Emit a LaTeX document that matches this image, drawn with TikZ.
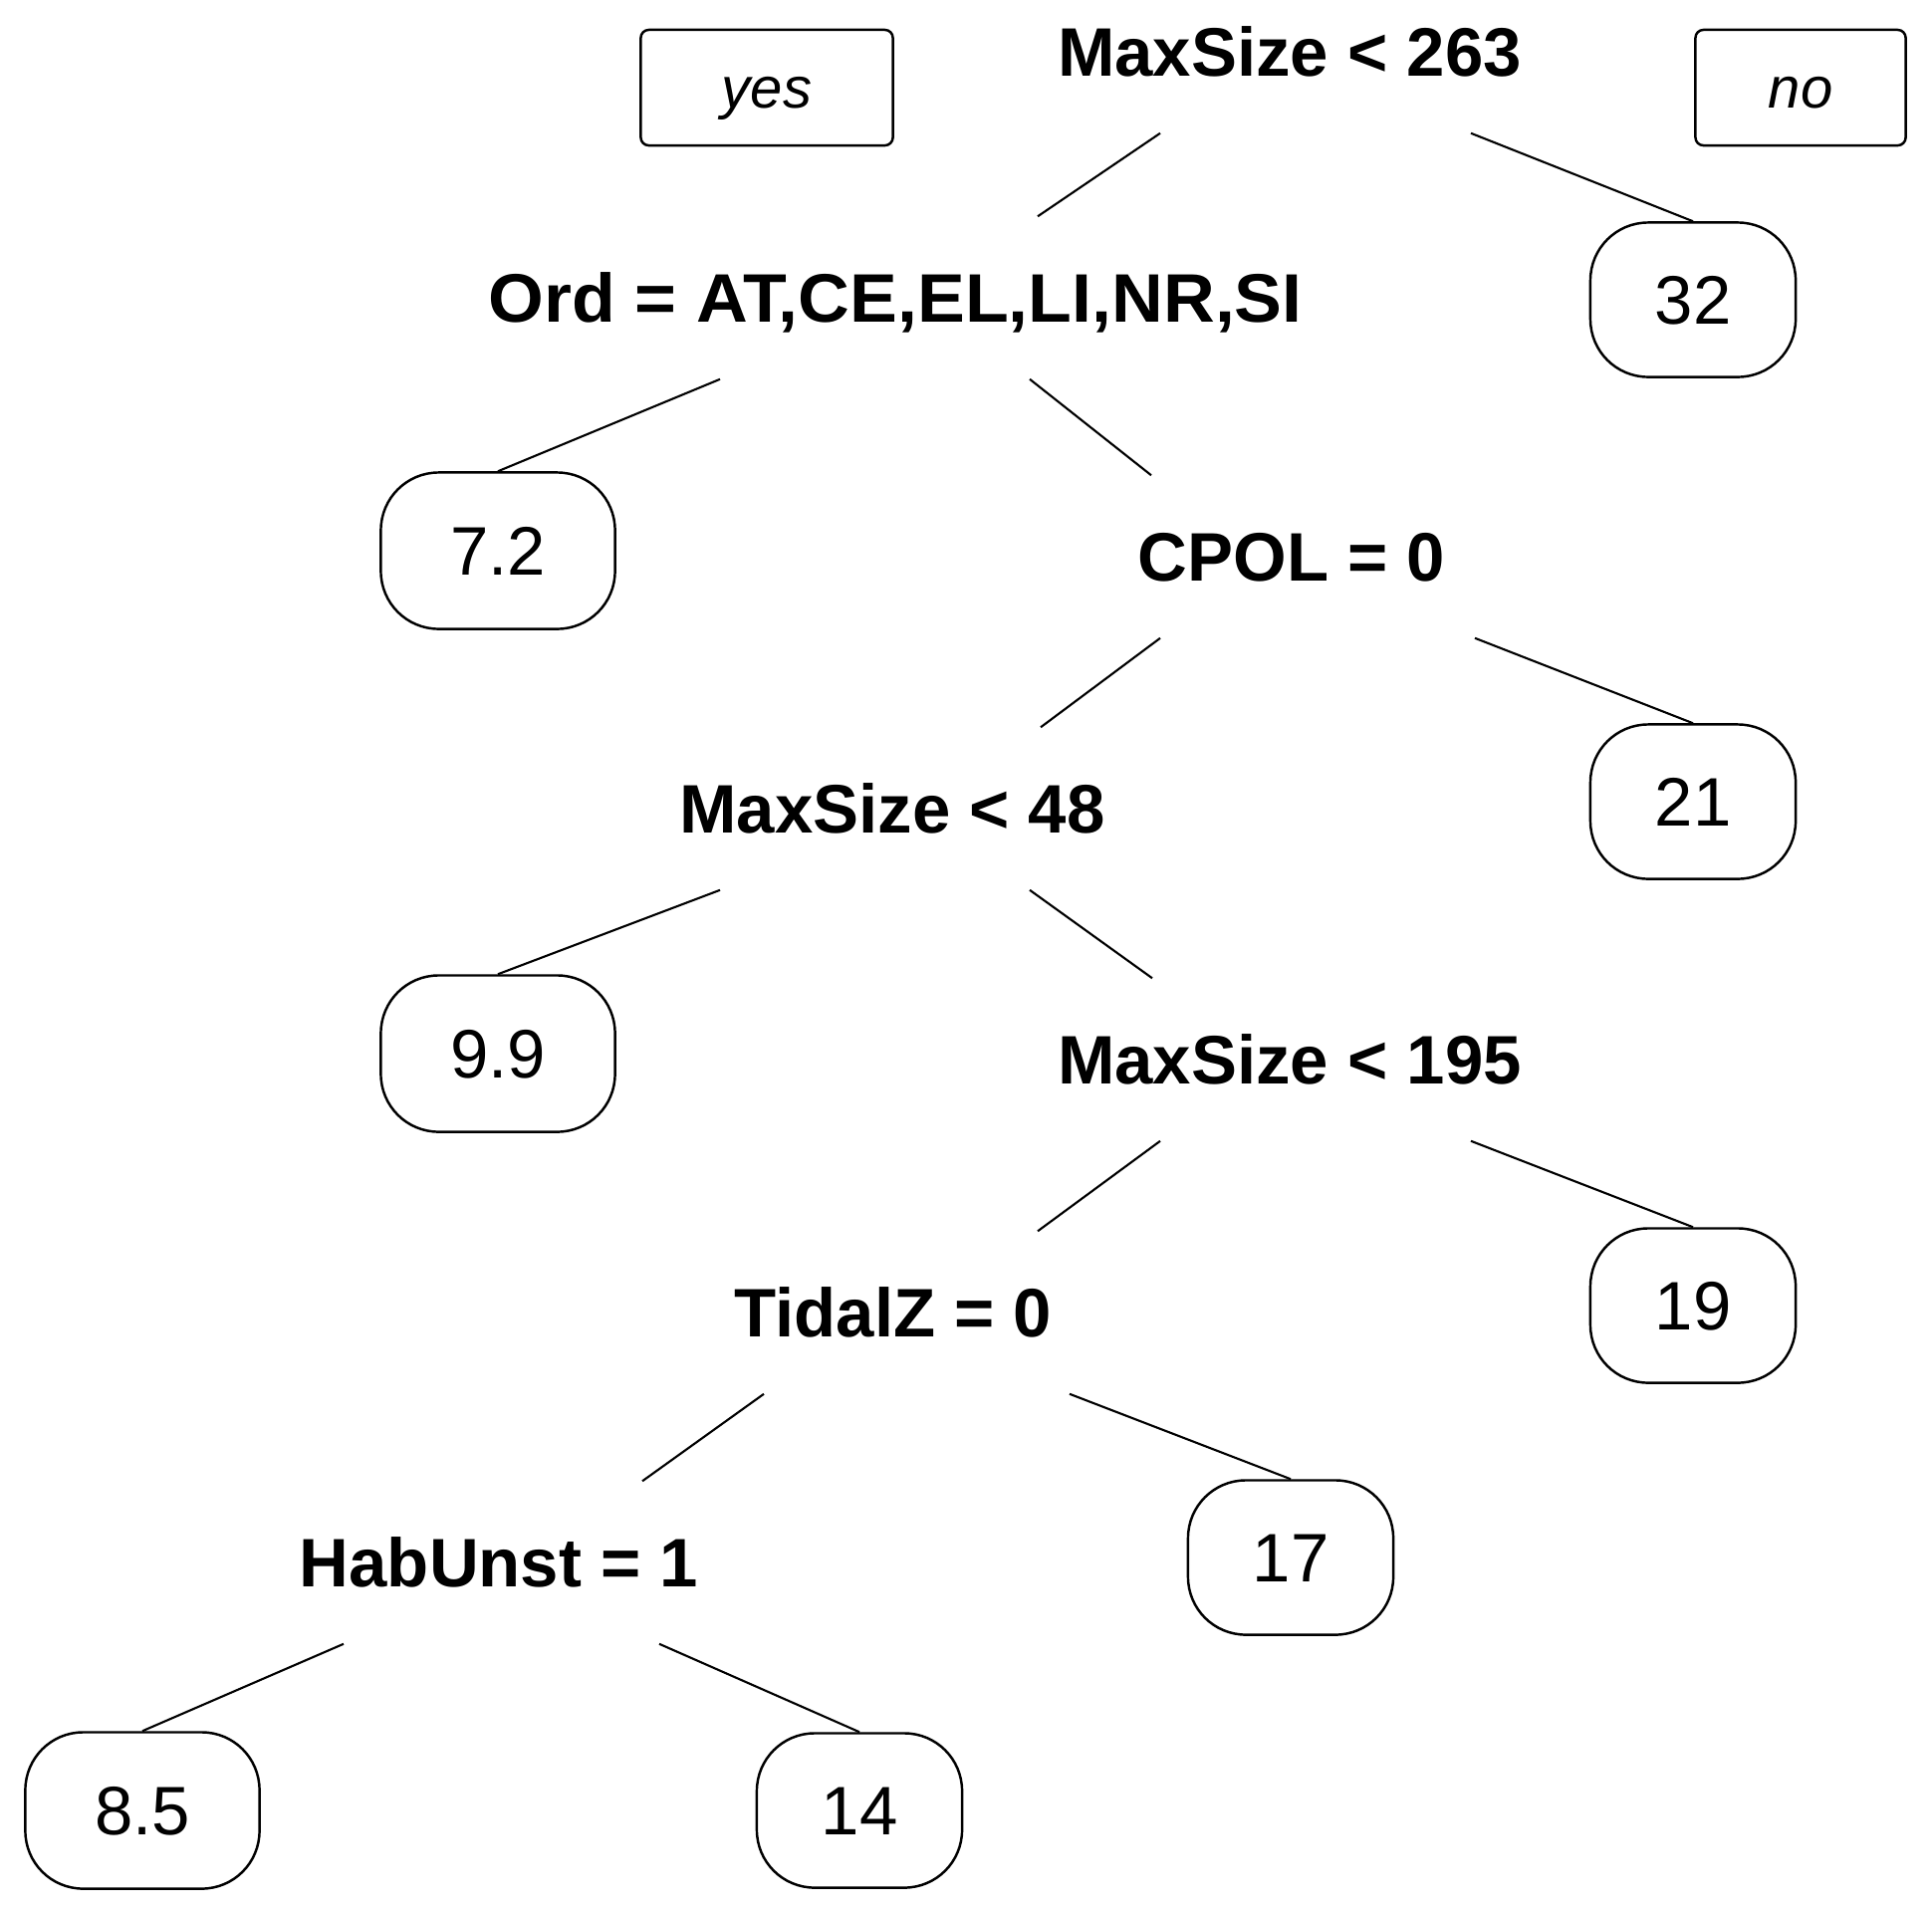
\documentclass[tikz,border=0pt]{standalone}
\usepackage{fontspec}
\setmainfont{Liberation Sans}
\usetikzlibrary{calc}
\tikzset{
  split/.style={inner sep=0pt, minimum height=1.62cm, text height=14pt, text depth=0pt,
    font=\fontsize{19.6}{23}\selectfont\bfseries},
  leaf/.style={draw, line width=0.7pt, rounded corners=0.58cm, inner sep=0pt,
    minimum width=2.06cm, minimum height=1.55cm, text height=14pt, text depth=0pt,
    font=\fontsize{19.6}{23}\selectfont},
  wideleaf/.style={leaf, minimum width=2.35cm, minimum height=1.57cm},
  tag/.style={draw, line width=0.7pt, rounded corners=0.08cm, inner sep=0pt,
    minimum height=1.16cm, text height=11.8pt, text depth=0pt,
    font=\fontsize{16.5}{20}\selectfont\itshape},
  branch/.style={line width=0.6pt}
}
\begin{document}
\begin{tikzpicture}[x=0.01cm, y=-0.01cm]
\fill[white] (0,0) rectangle (1940,1920);
\useasboundingbox (0,0) rectangle (1940,1920);

\node[tag, minimum width=2.53cm] (yes) at (770,88) {yes};
\node[tag, minimum width=2.11cm] (no) at (1808,88) {no};

\node[split] (root) at (1295,52) {MaxSize < 263};
\node[leaf] (l32) at (1700,301) {32};
\node[split] (ord) at (899,299) {\scalebox{1.04}[1]{Ord = AT,CE,EL,LI,NR,SI}};
\node[wideleaf] (l72) at (500,553) {7.2};
\node[split] (cpol) at (1297,559) {CPOL = 0};
\node[leaf] (l21) at (1700,805) {21};
\node[split] (ms48) at (896,812) {MaxSize < 48};
\node[wideleaf] (l99) at (500,1058) {9.9};
\node[split] (ms195) at (1295,1064) {MaxSize < 195};
\node[leaf] (l19) at (1700,1311) {19};
\node[split] (tz) at (897,1318) {TidalZ = 0};
\node[leaf] (l17) at (1296,1564) {17};
\node[split] (hab) at (501,1569) {HabUnst = 1};
\node[wideleaf] (l85) at (143,1818) {8.5};
\node[leaf] (l14) at (863,1818) {14};

\draw[branch] ($(root.south)+(-130,0)$) -- ($(ord.north)+(143,0)$);
\draw[branch] ($(root.south)+(182,0)$) -- (l32.north);
\draw[branch] ($(ord.south)+(-176,0)$) -- (l72.north);
\draw[branch] ($(ord.south)+(135,0)$) -- ($(cpol.north)+(-141,0)$);
\draw[branch] ($(cpol.south)+(-132,0)$) -- ($(ms48.north)+(149,0)$);
\draw[branch] ($(cpol.south)+(184,0)$) -- (l21.north);
\draw[branch] ($(ms48.south)+(-173,0)$) -- (l99.north);
\draw[branch] ($(ms48.south)+(138,0)$) -- ($(ms195.north)+(-138,0)$);
\draw[branch] ($(ms195.south)+(-130,0)$) -- ($(tz.north)+(145,0)$);
\draw[branch] ($(ms195.south)+(182,0)$) -- (l19.north);
\draw[branch] ($(tz.south)+(-130,0)$) -- ($(hab.north)+(144,0)$);
\draw[branch] ($(tz.south)+(177,0)$) -- (l17.north);
\draw[branch] ($(hab.south)+(-156,0)$) -- (l85.north);
\draw[branch] ($(hab.south)+(161,0)$) -- (l14.north);
\end{tikzpicture}
\end{document}
